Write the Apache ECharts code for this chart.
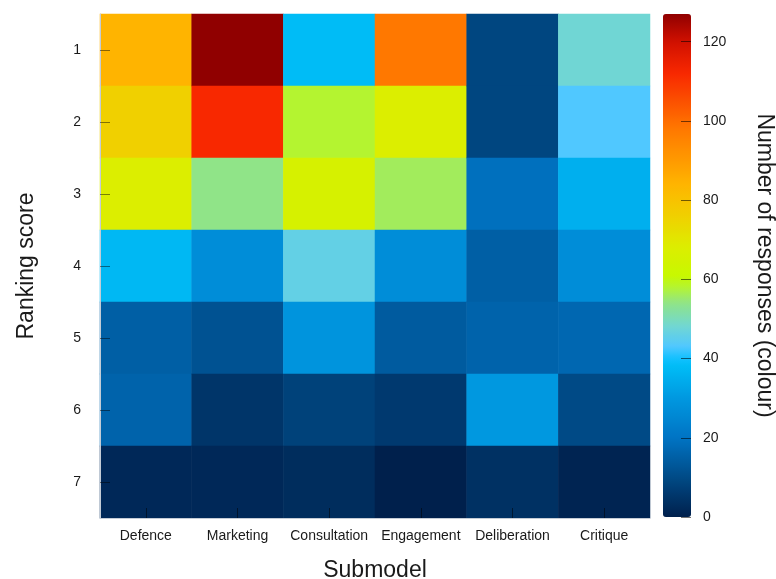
<!DOCTYPE html>
<html>
<head>
<meta charset="utf-8">
<script src="https://cdn.jsdelivr.net/npm/echarts@6/dist/echarts.min.js"></script>
<style>
  html, body { margin: 0; padding: 0; background: #ffffff; }
  #chart { width: 776px; height: 579px; }
</style>
</head>
<body>
<div id="chart"></div>
<script>
// Submodels (columns) and ranking scores (rows, 1 = top)
const submodels = ['Defence', 'Marketing', 'Consultation', 'Engagement', 'Deliberation', 'Critique'];
const rankingScores = ['1', '2', '3', '4', '5', '6', '7'];

// Number of responses per ranking score, one array per submodel (rank 1..7)
const defence      = [84, 76, 68, 37, 15, 16, 2];
const marketing    = [127, 112, 54, 27, 12, 5, 2];
const consultation = [38, 58, 66, 46, 29, 8, 3];
const engagement   = [98, 68, 56, 27, 14, 6, 0];
const deliberation = [9, 9, 19, 15, 16, 30, 4];
const critique     = [48, 43, 35, 27, 17, 10, 1];

// Colour scale range and colour bar tick labels
const colourMin = 0;
const colourMax = 127;
const colourTicks = [0, 20, 40, 60, 80, 100, 120];

const columns = [defence, marketing, consultation, engagement, deliberation, critique];

// Palette stops: [value, colour]
const paletteStops = [
  [0, '#00204c'], [10, '#004a86'], [20, '#0074c4'], [30, '#0098e0'],
  [38, '#00bcf6'], [40, '#10c0ff'], [43, '#50c8ff'], [48, '#70d6d4'],
  [54, '#90e488'], [58, '#b4f430'], [61, '#c8f800'], [68, '#dcee00'],
  [76, '#f0d000'], [84, '#ffb400'], [98, '#ff7800'], [112, '#f82800'],
  [120, '#d01000'], [127, '#900000']
];

function hexToRgb(h) {
  return [parseInt(h.slice(1, 3), 16), parseInt(h.slice(3, 5), 16), parseInt(h.slice(5, 7), 16)];
}
function paletteAt(v) {
  for (let i = 0; i < paletteStops.length - 1; i++) {
    const [v0, c0] = paletteStops[i];
    const [v1, c1] = paletteStops[i + 1];
    if (v >= v0 && v <= v1) {
      const t = (v - v0) / (v1 - v0);
      const a = hexToRgb(c0), b = hexToRgb(c1);
      const c = a.map((x, k) => Math.round(x + (b[k] - x) * t));
      return 'rgb(' + c.join(',') + ')';
    }
  }
  return paletteStops[paletteStops.length - 1][1];
}
// Evenly spaced colour list across the scale for the visual map
const rampColours = [];
for (let v = colourMin; v <= colourMax; v += 0.5) rampColours.push(paletteAt(v));

const cells = [];
columns.forEach((col, x) => col.forEach((val, y) => cells.push([x, y, val])));

const textColour = '#1a1a1a';
const fontFamily = '"Liberation Sans", Arial, sans-serif';

const chart = echarts.init(document.getElementById('chart'), null, { renderer: 'canvas' });
chart.setOption({
  backgroundColor: '#ffffff',
  animation: false,
  textStyle: { fontFamily: fontFamily },
  grid: [
    { left: 100, top: 14, width: 550, height: 504, containLabel: false, outerBoundsMode: 'none' },
    { left: 663, top: 14, width: 28, height: 503, containLabel: false, outerBoundsMode: 'none' }
  ],
  xAxis: [
    {
      type: 'category', gridIndex: 0, data: submodels, z: 10,
      name: 'Submodel', nameLocation: 'middle', nameGap: 41,
      nameTextStyle: { fontSize: 23, color: textColour, fontFamily: fontFamily },
      axisLine: { show: true, lineStyle: { color: '#c4ccd6', width: 1 } },
      axisTick: { show: true, inside: true, length: 10, alignWithLabel: true,
                  lineStyle: { color: 'rgba(0,0,0,0.5)', width: 1 } },
      axisLabel: { fontSize: 14, color: textColour, margin: 11, interval: 0, fontFamily: fontFamily },
      splitLine: { show: false }
    },
    { type: 'value', gridIndex: 1, show: false, min: 1, max: 2 }
  ],
  yAxis: [
    {
      type: 'category', gridIndex: 0, data: rankingScores, inverse: true, z: 10,
      name: 'Ranking score', nameLocation: 'middle', nameGap: 62, nameRotate: 90,
      nameTextStyle: { fontSize: 23, color: textColour, fontFamily: fontFamily },
      axisLine: { show: true, lineStyle: { color: '#c4ccd6', width: 1 } },
      axisTick: { show: true, inside: true, length: 10, alignWithLabel: true,
                  lineStyle: { color: 'rgba(0,0,0,0.45)', width: 1 } },
      axisLabel: { fontSize: 14, color: textColour, margin: 19, fontFamily: fontFamily },
      splitLine: { show: false }
    },
    {
      type: 'value', gridIndex: 1, position: 'right', min: colourMin, max: colourMax,
      zlevel: 1, z: 20,
      name: 'Number of responses (colour)', nameLocation: 'middle', nameGap: 62, nameRotate: -90,
      nameTextStyle: { fontSize: 23, color: textColour, fontFamily: fontFamily },
      axisLine: { show: false, onZero: false },
      axisTick: { show: true, inside: true, length: 10, customValues: colourTicks,
                  lineStyle: { color: 'rgba(0,0,0,0.55)', width: 1 } },
      axisLabel: { fontSize: 14, color: textColour, margin: 12, customValues: colourTicks,
                   fontFamily: fontFamily },
      splitLine: { show: false }
    }
  ],
  visualMap: {
    type: 'continuous', seriesIndex: 0, min: colourMin, max: colourMax,
    calculable: false, show: true, orient: 'vertical',
    left: 663, top: 14, itemWidth: 28, itemHeight: 503, padding: 0,
    text: null, hoverLink: false,
    inRange: { color: rampColours }
  },
  series: [
    {
      type: 'heatmap', xAxisIndex: 0, yAxisIndex: 0, data: cells,
      itemStyle: { borderWidth: 0 },
      emphasis: { disabled: true }
    },
    { type: 'scatter', xAxisIndex: 1, yAxisIndex: 1, data: [], silent: true }
  ]
});
</script>
</body>
</html>
